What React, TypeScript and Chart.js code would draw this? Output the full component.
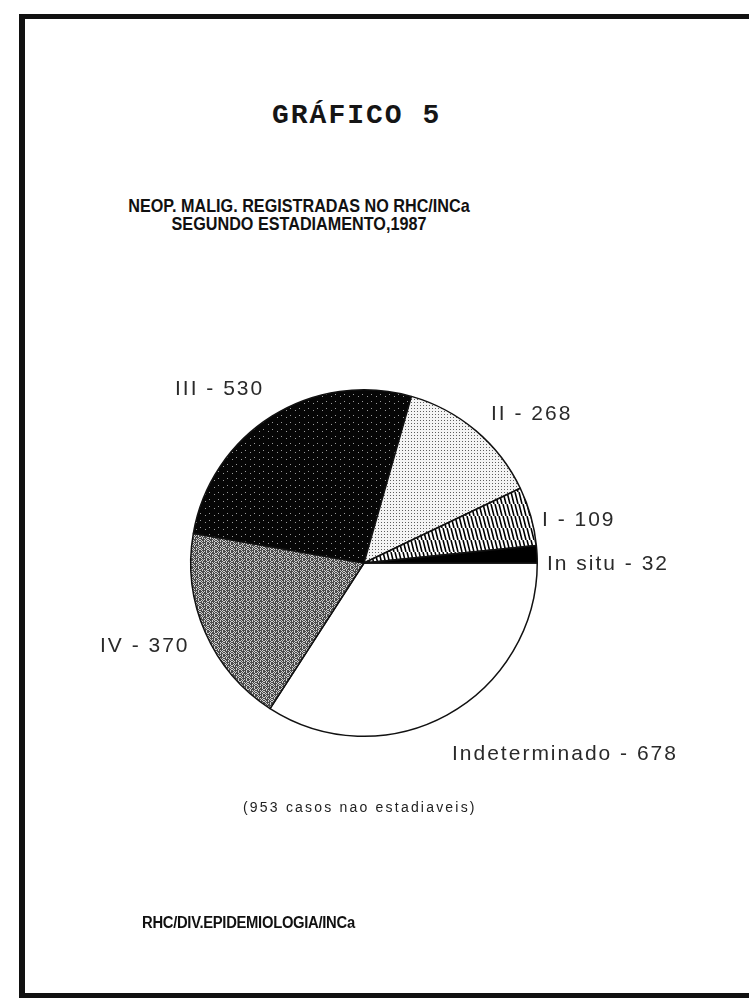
import React, { useEffect, useRef } from "react";
import { Chart, registerables } from "chart.js";

Chart.register(...registerables);

// ---- data ----
const categories = ["Indeterminado", "IV", "III", "II", "I", "In situ"];
const values = [678, 370, 530, 268, 109, 32];
const sliceLabels = categories.map((c, i) => `${c} - ${values[i]}`);
const chartHeading = "GRÁFICO 5";
const titleLines = ["NEOP. MALIG. REGISTRADAS NO RHC/INCa", "SEGUNDO ESTADIAMENTO,1987"];
const noteText = "(953 casos nao estadiaveis)";
const sourceText = "RHC/DIV.EPIDEMIOLOGIA/INCa";

// ---- layout (label offsets from pie centre, px) ----
const labelOffsets: [number, number][] = [
  [88, 191],
  [-264, 83],
  [-189, -174],
  [127, -149],
  [178, -43],
  [183, 1],
];

function makeTile(w: number, h: number, draw: (c: CanvasRenderingContext2D) => void) {
  const cv = document.createElement("canvas");
  cv.width = w;
  cv.height = h;
  const c = cv.getContext("2d")!;
  draw(c);
  return c.createPattern(cv, "repeat")!;
}

function pixels(c: CanvasRenderingContext2D, rows: string[], dark: string, light: string) {
  rows.forEach((r, y) => {
    for (let x = 0; x < r.length; x++) {
      c.fillStyle = r[x] === "#" ? dark : light;
      c.fillRect(x, y, 1, 1);
    }
  });
}

function buildFills() {
  const white = "#ffffff";
  const ivTex = makeTile(8, 8, (c) =>
    pixels(
      c,
      ["#.#.##.#", ".#.####.", "##.#.#.#", ".####.#.", "#.##.#.#", ".#.#.##.", "#.####.#", "##.#.#.#"],
      "#4a4a4a",
      "#cfcfcf"
    )
  );
  const iiiTex = makeTile(9, 7, (c) =>
    pixels(
      c,
      ["#########", "#########", "##.######", "#########", "#######.#", "#########", "#########"],
      "#060606",
      "#9a9a9a"
    )
  );
  const iiTex = makeTile(3, 3, (c) => pixels(c, ["#..", "...", "..."], "#5e5e5e", "#f4f4f4"));
  const iTex = makeTile(4, 12, (c) => {
    c.fillStyle = "#ffffff";
    c.fillRect(0, 0, 4, 12);
    c.strokeStyle = "#000";
    c.lineWidth = 1.6;
    for (let k = -1; k <= 1; k++) {
      c.beginPath();
      c.moveTo(k * 4 - 1, 0);
      c.lineTo(k * 4 + 2, 12);
      c.stroke();
    }
  });
  return [white, ivTex, iiiTex, iiTex, iTex, "#000000"];
}

const labelPlugin = {
  id: "sliceLabels",
  afterDatasetsDraw(chart: any) {
    const ctx = chart.ctx as CanvasRenderingContext2D;
    const meta = chart.getDatasetMeta(0);
    ctx.save();
    ctx.font = "21px 'Liberation Sans', Arial, sans-serif";
    (ctx as any).letterSpacing = "2px";
    ctx.fillStyle = "#2a2a2a";
    ctx.textAlign = "left";
    ctx.textBaseline = "middle";
    meta.data.forEach((arc: any, i: number) => {
      const [dx, dy] = labelOffsets[i];
      ctx.fillText(sliceLabels[i], arc.x + dx, arc.y + dy);
    });
    ctx.restore();
  },
};

function PieChart() {
  const ref = useRef<HTMLCanvasElement>(null);
  useEffect(() => {
    const chart = new Chart(ref.current!, {
      type: "pie",
      data: {
        labels: categories,
        datasets: [
          {
            data: values,
            backgroundColor: buildFills() as any,
            borderColor: "#111",
            borderWidth: 1.5,
            hoverOffset: 0,
            offset: 0,
          },
        ],
      },
      options: {
        animation: false,
        responsive: false,
        devicePixelRatio: 1,
        rotation: 90,
        layout: { padding: { left: 190, right: 211, top: 389, bottom: 271 } },
        plugins: { legend: { display: false }, tooltip: { enabled: false }, title: { display: false } },
        events: [],
      },
      plugins: [labelPlugin],
    });
    return () => chart.destroy();
  }, []);
  return (
    <canvas
      ref={ref}
      width={749}
      height={1008}
      style={{ position: "absolute", left: 0, top: 0, width: 749, height: 1008 }}
    />
  );
}

export default function App() {
  const abs: React.CSSProperties = { position: "absolute", whiteSpace: "nowrap", margin: 0 };
  return (
    <div
      style={{
        position: "absolute",
        left: 0,
        top: 0,
        width: 749,
        height: 1008,
        overflow: "hidden",
        background: "#fff",
      }}
    >
      <div
        style={{
          position: "absolute",
          left: 19,
          top: 14,
          width: 760,
          height: 984,
          boxSizing: "border-box",
          borderTop: "5px solid #111",
          borderLeft: "6px solid #111",
          borderBottom: "5px solid #111",
        }}
      />
      <div
        style={{
          ...abs,
          left: 272,
          top: 102,
          fontFamily: "'Liberation Mono', 'DejaVu Sans Mono', monospace",
          fontWeight: 700,
          fontSize: 28,
          lineHeight: "28px",
          letterSpacing: "2px",
          color: "#151515",
        }}
      >
        {chartHeading}
      </div>
      {titleLines.map((t, i) => (
        <div
          key={i}
          style={{
            ...abs,
            left: 0,
            width: 598,
            top: 197 + i * 18,
            textAlign: "center",
            fontFamily: "'Liberation Sans', Arial, sans-serif",
            fontWeight: 700,
            fontSize: 16.2,
            lineHeight: "16px",
            color: "#111",
            transform: "scaleY(1.15)",
          }}
        >
          {t}
        </div>
      ))}
      <PieChart />
      <div
        style={{
          ...abs,
          left: 243,
          top: 800,
          fontFamily: "'Liberation Sans', Arial, sans-serif",
          fontSize: 14,
          lineHeight: "14px",
          letterSpacing: "2.2px",
          color: "#222",
        }}
      >
        {noteText}
      </div>
      <div
        style={{
          ...abs,
          left: 142,
          top: 915,
          fontFamily: "'Liberation Sans', Arial, sans-serif",
          fontWeight: 700,
          fontSize: 14.8,
          lineHeight: "14px",
          letterSpacing: "-0.3px",
          color: "#111",
          transform: "scaleY(1.15)",
        }}
      >
        {sourceText}
      </div>
    </div>
  );
}
